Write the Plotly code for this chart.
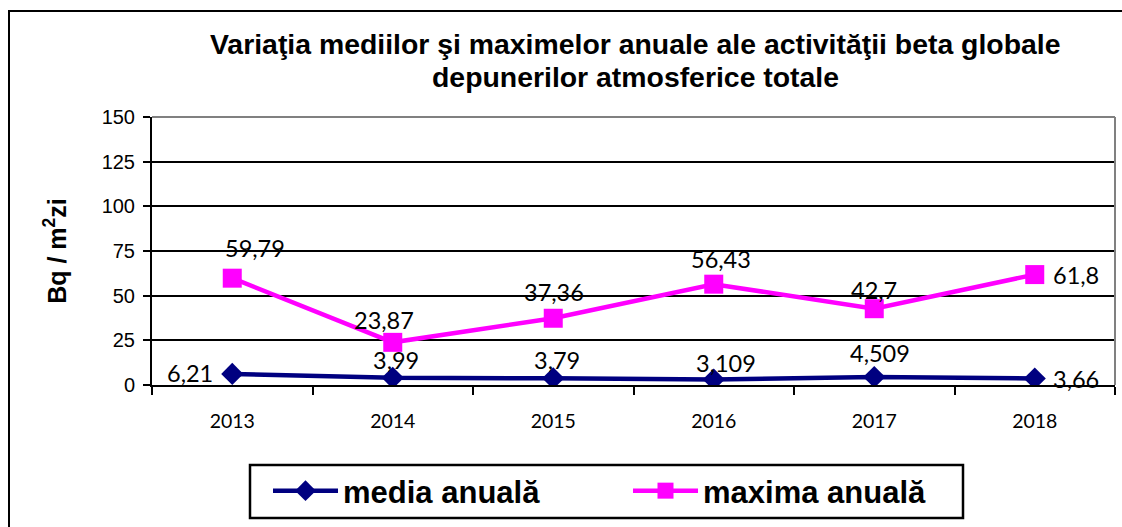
import plotly.graph_objects as go

# Values
years = ["2013", "2014", "2015", "2016", "2017", "2018"]
media_anuala = [6.21, 3.99, 3.79, 3.109, 4.509, 3.66]
maxima_anuala = [59.79, 23.87, 37.36, 56.43, 42.7, 61.8]

title_lines = [
    "Variaţia mediilor şi maximelor anuale ale activităţii beta globale",
    "depunerilor atmosferice totale",
]
y_title = "Bq / m<sup>2</sup>zi"

# Figure geometry (pixels)
W, H = 1122, 527
ML, MR, MT, MB = 152, 7, 117, 142
PW, PH = W - ML - MR, H - MT - MB


def px(x):
    return (x - ML) / PW


def py(y):
    return 1 - (y - MT) / PH


NAVY = "#000080"
MAGENTA = "#FF00FF"
LABEL_FONT = dict(family="Lato", size=23.5, color="black")

fig = go.Figure()
fig.add_trace(go.Scatter(
    x=years, y=media_anuala, name="media anuală", mode="lines+markers",
    line=dict(color=NAVY, width=4.5),
    marker=dict(symbol="diamond", size=17, color=NAVY),
))
fig.add_trace(go.Scatter(
    x=years, y=maxima_anuala, name="maxima anuală", mode="lines+markers",
    line=dict(color=MAGENTA, width=4.5),
    marker=dict(symbol="square", size=19, color=MAGENTA),
))


def fmt(v):
    return str(v).replace(".", ",")


# Data labels, offset from each point (category index on the x axis)
media_shift = [(-42, 1), (3, 18), (4, 18), (12, 16), (6, 24), (41, -1)]
maxima_shift = [(23, 30), (-9, 22), (1, 26), (7, 25), (0, 19), (41, 0)]
for series, shifts in ((media_anuala, media_shift), (maxima_anuala, maxima_shift)):
    for i, (v, (dx, dy)) in enumerate(zip(series, shifts)):
        fig.add_annotation(
            x=i, y=v, xref="x", yref="y", text=fmt(v), showarrow=False,
            xanchor="center", yanchor="middle", xshift=dx, yshift=dy,
            font=LABEL_FONT,
        )

# Two-line title
for line, yc in zip(title_lines, (44, 77)):
    fig.add_annotation(
        xref="paper", yref="paper", x=px(635), y=py(yc), text=f"<b>{line}</b>",
        showarrow=False, xanchor="center", yanchor="middle",
        font=dict(family="Arial", size=28.4, color="black"),
    )

shapes = [
    # plot area top and right border
    dict(type="line", xref="x domain", yref="y domain", x0=0, x1=1, y0=1, y1=1,
         line=dict(color="#808080", width=2), layer="above"),
    dict(type="line", xref="x domain", yref="y domain", x0=1, x1=1, y0=0, y1=1,
         line=dict(color="#808080", width=2), layer="above"),
    # outer chart frame
    dict(type="rect", xref="paper", yref="paper", x0=px(9), x1=px(1130), y0=py(540), y1=py(11),
         line=dict(color="black", width=2), layer="above"),
    # legend frame
    dict(type="rect", xref="paper", yref="paper", x0=px(250), x1=px(963), y0=py(518), y1=py(465),
         line=dict(color="black", width=2.5), layer="below"),
]

fig.update_layout(
    width=W, height=H,
    margin=dict(l=ML, r=MR, t=MT, b=MB),
    paper_bgcolor="white", plot_bgcolor="white",
    shapes=shapes,
    showlegend=True,
    legend=dict(
        orientation="h", xref="container", yref="container",
        x=268 / W, y=1 - 491 / H, xanchor="left", yanchor="middle",
        borderwidth=0, bgcolor="rgba(0,0,0,0)",
        font=dict(family="Arial", size=31, color="black", weight="bold"),
        entrywidth=280, entrywidthmode="pixels", itemwidth=65,
    ),
    xaxis=dict(
        type="category", tickson="boundaries", range=[-0.5, 5.5],
        showline=True, linecolor="black", linewidth=2,
        ticks="outside", ticklen=8, tickwidth=2, tickcolor="black",
        showgrid=False, ticklabelstandoff=18,
        tickfont=dict(family="Lato", size=19.5, color="black"),
    ),
    yaxis=dict(
        range=[0, 150], dtick=25, tick0=0,
        showline=True, linecolor="black", linewidth=2,
        ticks="outside", ticklen=7, tickwidth=2, tickcolor="black",
        showgrid=True, gridcolor="black", gridwidth=2, zeroline=False,
        tickfont=dict(family="Arial", size=20, color="black"),
        ticklabelstandoff=4,
        title=dict(text=f"<b>{y_title}</b>", standoff=28,
                   font=dict(family="Arial", size=25, color="black")),
    ),
)

fig.write_html("out.html")
